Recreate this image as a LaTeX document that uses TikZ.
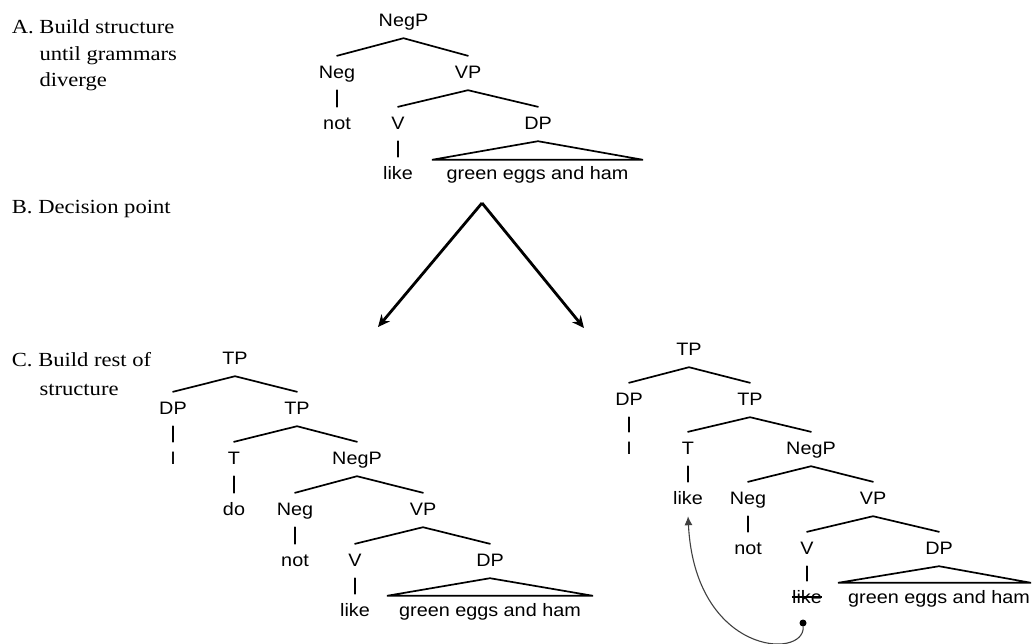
\documentclass[tikz,border=0pt]{standalone}
\usepackage{fontspec}
\newfontfamily\labfont{Liberation Sans}[FakeStretch=1.1]
\newfontfamily\serfont{Liberation Serif}[FakeStretch=1.13]
\usetikzlibrary{arrows.meta}
\begin{document}
\begin{tikzpicture}[x=1pt,y=-1pt,
  tn/.style={font=\labfont\fontsize{18}{20}\selectfont, inner sep=0pt, text height=22.5pt, text depth=11.5pt, anchor=base},
  ser/.style={font=\serfont\fontsize{20}{24}\selectfont, inner sep=0pt, anchor=base west},
  br/.style={line width=1.7pt, line cap=round},
  tri/.style={line width=1.7pt, line join=miter},
  bigarrow/.style={line width=2.8pt, -{Stealth[length=12pt,width=11pt]}},
  move/.style={line width=1.1pt, draw=black!75, -{Latex[length=9pt,width=8pt]}},
]
\useasboundingbox (0,0) rectangle (1032,643);

% ---- left-hand labels
\node[ser] (la1) at (11.7,33.3) {A. Build structure};
\node[ser] (la2) at (39.3,60) {until grammars};
\node[ser] (la3) at (39.3,86.7) {diverge};
\node[ser] (lb1) at (11.7,213) {B. Decision point};
\node[ser] (lc1) at (11.7,366) {C. Build rest of};
\node[ser] (lc2) at (39.3,395) {structure};

% ---- top tree
\node[tn] (a-negp) at (403.5,26.5) {NegP};
\node[tn] (a-neg)  at (337,78.5) {Neg};
\node[tn] (a-vp)   at (468,78.5) {VP};
\node[tn] (a-not)  at (337,129.5) {not};
\node[tn] (a-v)    at (398,129.5) {V};
\node[tn] (a-dp)   at (538,129.5) {DP};
\node[tn] (a-like) at (398,179.5) {like};
\node[tn] (a-gr)   at (537.5,179.5) {green eggs and ham};
\draw[br] (a-neg.north) -- (a-negp.south) -- (a-vp.north);
\draw[br] (a-neg.south) -- (a-not.north);
\draw[br] (a-v.north) -- (a-vp.south) -- (a-dp.north);
\draw[br] (a-v.south) -- (a-like.north);
\draw[tri] (a-dp.south) -- ([shift={(-105.5pt,-3pt)}]a-gr.north) -- ([shift={(105.5pt,-3pt)}]a-gr.north) -- cycle;

% ---- decision arrows
\coordinate (fork) at (482,203);
\coordinate (lend) at (378,327);
\coordinate (rend) at (584,328);
\draw[bigarrow] (fork) -- (lend);
\draw[bigarrow] (fork) -- (rend);

% ---- left bottom tree
\node[tn] (b-tp)   at (235,364.5) {TP};
\node[tn] (b-dp)   at (173,414.5) {DP};
\node[tn] (b-tp2)  at (297,414.5) {TP};
\node[tn] (b-i)    at (173,464.5) {I};
\node[tn] (b-t)    at (234,464.5) {T};
\node[tn] (b-negp) at (357,464.5) {NegP};
\node[tn] (b-do)   at (234,515.5) {do};
\node[tn] (b-neg)  at (295,515.5) {Neg};
\node[tn] (b-vp)   at (423,515.5) {VP};
\node[tn] (b-not)  at (295,566.5) {not};
\node[tn] (b-v)    at (355,566.5) {V};
\node[tn] (b-dp2)  at (490,566.5) {DP};
\node[tn] (b-like) at (355,616.5) {like};
\node[tn] (b-gr)   at (490,616.5) {green eggs and ham};
\draw[br] (b-dp.north) -- (b-tp.south) -- (b-tp2.north);
\draw[br] (b-dp.south) -- (b-i.north);
\draw[br] (b-t.north) -- (b-tp2.south) -- (b-negp.north);
\draw[br] (b-t.south) -- (b-do.north);
\draw[br] (b-neg.north) -- (b-negp.south) -- (b-vp.north);
\draw[br] (b-neg.south) -- (b-not.north);
\draw[br] (b-v.north) -- (b-vp.south) -- (b-dp2.north);
\draw[br] (b-v.south) -- (b-like.north);
\draw[tri] (b-dp2.south) -- ([shift={(-103pt,-2pt)}]b-gr.north) -- ([shift={(103pt,-2pt)}]b-gr.north) -- cycle;

% ---- right bottom tree
\node[tn] (c-tp)    at (689,355.5) {TP};
\node[tn] (c-dp)    at (629,405.5) {DP};
\node[tn] (c-tp2)   at (750,405.5) {TP};
\node[tn] (c-i)     at (629,454.5) {I};
\node[tn] (c-t)     at (688,454.5) {T};
\node[tn] (c-negp)  at (811,454.5) {NegP};
\node[tn] (c-like1) at (688,504.5) {like};
\node[tn] (c-neg)   at (748,504.5) {Neg};
\node[tn] (c-vp)    at (873,504.5) {VP};
\node[tn] (c-not)   at (748,554.5) {not};
\node[tn] (c-v)     at (807,554.5) {V};
\node[tn] (c-dp2)   at (939,554.5) {DP};
\node[tn] (c-like2) at (807,603.5) {like};
\node[tn] (c-gr)    at (939,603.5) {green eggs and ham};
\draw[br] (c-dp.north) -- (c-tp.south) -- (c-tp2.north);
\draw[br] (c-dp.south) -- (c-i.north);
\draw[br] (c-t.north) -- (c-tp2.south) -- (c-negp.north);
\draw[br] (c-t.south) -- (c-like1.north);
\draw[br] (c-neg.north) -- (c-negp.south) -- (c-vp.north);
\draw[br] (c-neg.south) -- (c-not.north);
\draw[br] (c-v.north) -- (c-vp.south) -- (c-dp2.north);
\draw[br] (c-v.south) -- (c-like2.north);
\draw[tri] (c-dp2.south) -- ([shift={(-101pt,-2pt)}]c-gr.north) -- ([shift={(92pt,-2pt)}]c-gr.north) -- cycle;
% strike-through of the moved verb
\draw[line width=1.1pt] ([yshift=6.5pt]c-like2.base west) -- ([yshift=6.5pt]c-like2.base east);
% movement arrow
\node[circle, fill=black, inner sep=0pt, minimum size=7pt] (c-trace) at (803,623) {};
\draw[move] (c-trace) .. controls (805,660) and (695,655) .. (c-like1.south);
\end{tikzpicture}
\end{document}
